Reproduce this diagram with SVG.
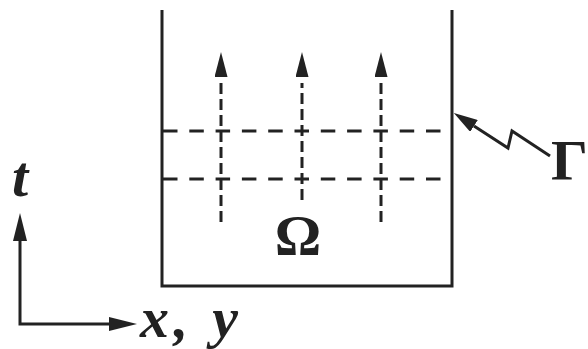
<svg xmlns="http://www.w3.org/2000/svg" width="588" height="349" viewBox="0 0 588 349">
  <style>
    .solid { fill: none; stroke: #222; stroke-width: 3; }
    .hdash { fill: none; stroke: #222; stroke-width: 3; stroke-dasharray: 14.5 11.8; }
    .vdash { fill: none; stroke: #222; stroke-width: 3; stroke-dasharray: 11 5; }
    .lbl { font-family: "Liberation Serif", "Times New Roman", serif; fill: #222; font-size: 58px; font-weight: bold; }
    .it { font-style: italic; }
  </style>
  <defs>
    <marker id="flowHead" markerUnits="userSpaceOnUse" viewBox="0 0 25 13" markerWidth="25" markerHeight="13" refX="-6" refY="6.5" orient="auto">
      <path d="M0,0 L25,6.5 L0,13 Z" fill="#222" stroke="none"/>
    </marker>
    <marker id="axisHead" markerUnits="userSpaceOnUse" viewBox="0 0 28 14" markerWidth="28" markerHeight="14" refX="0" refY="7" orient="auto-start-reverse">
      <path d="M0,0 L28,7 L0,14 Z" fill="#222" stroke="none"/>
    </marker>
    <marker id="ptrHead" markerUnits="userSpaceOnUse" viewBox="0 0 24 14" markerWidth="24" markerHeight="14" refX="0" refY="7" orient="auto">
      <path d="M0,0 L24,7 L0,14 Z" fill="#222" stroke="none"/>
    </marker>
  </defs>

  <g id="domain">
    <path class="solid" d="M162,10 V286 H452 V10"/>
    <path class="hdash" d="M163,131 H451"/>
    <path class="hdash" d="M163,179 H451"/>
    <text class="lbl" x="298" y="255" text-anchor="middle">Ω</text>
  </g>

  <g id="gamma-label">
    <text class="lbl" x="551" y="180" font-size="56">Γ</text>
  </g>

  <g id="t-label">
    <text class="lbl it" x="12" y="196">t</text>
  </g>

  <g id="xy-label">
    <text class="lbl it" x="140" y="337" textLength="98" lengthAdjust="spacing">x, y</text>
  </g>

  <g id="connectors">
    <path class="vdash" d="M221,222 V83" marker-end="url(#flowHead)"/>
    <path class="vdash" d="M302,200 V83" marker-end="url(#flowHead)"/>
    <path class="vdash" d="M381,222 V83" marker-end="url(#flowHead)"/>
    <path class="solid" d="M20,241 V324 H109" marker-start="url(#axisHead)" marker-end="url(#axisHead)"/>
    <path class="solid" d="M550,156 L512,131 L508,148 L474,126" marker-end="url(#ptrHead)"/>
  </g>
</svg>
